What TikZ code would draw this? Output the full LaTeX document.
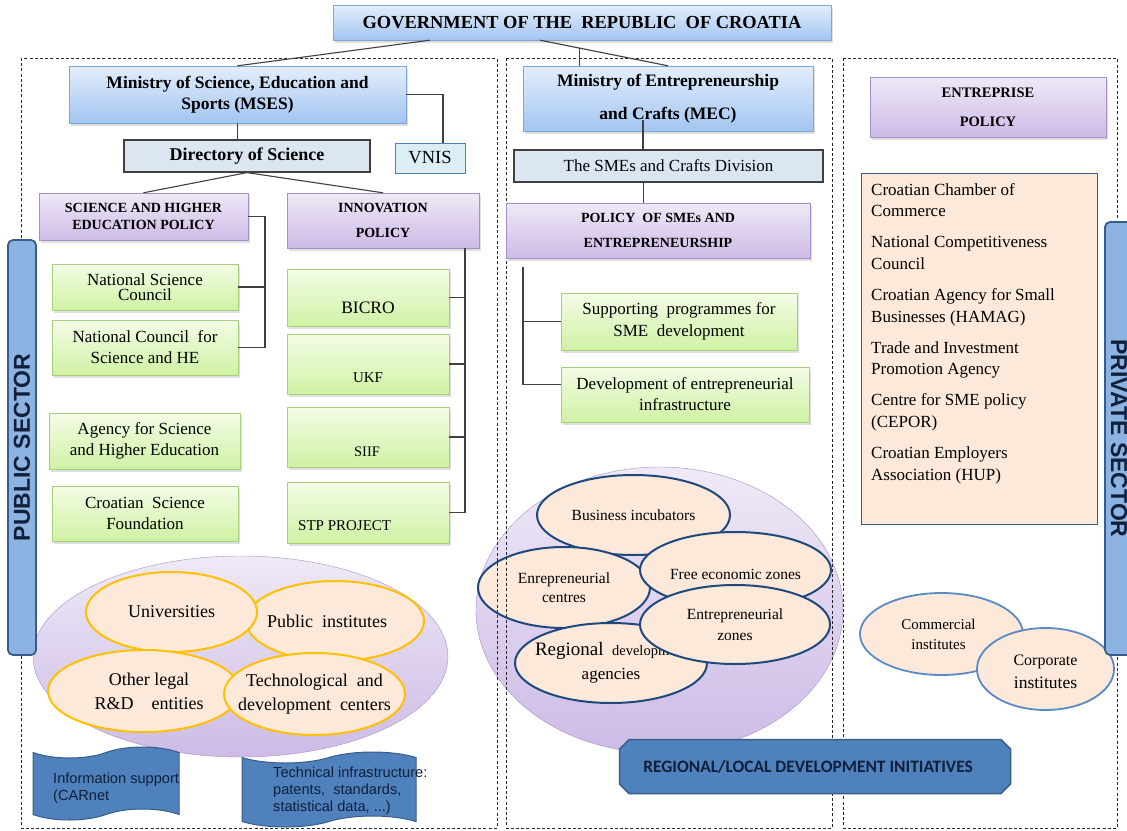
\documentclass[tikz,border=0pt]{standalone}
\usepackage{fontspec}
\setmainfont{Liberation Serif}
\setsansfont{Liberation Sans}
\newfontfamily\calibri{Carlito}
\usetikzlibrary{shapes.geometric,shapes.symbols,shapes.misc,shadows,calc}

\definecolor{blueline}{HTML}{7EA6D9}
\definecolor{bluetop}{HTML}{E3EEFC}
\definecolor{bluebot}{HTML}{A3C5F1}
\definecolor{purpline}{HTML}{A58FCB}
\definecolor{purptop}{HTML}{EFE9F7}
\definecolor{purpbot}{HTML}{CDBBE6}
\definecolor{greenline}{HTML}{A9CF7A}
\definecolor{greentop}{HTML}{F4FCE6}
\definecolor{greenbot}{HTML}{CFF2A4}
\definecolor{peach}{HTML}{FDE9D9}
\definecolor{gold}{HTML}{FFC000}
\definecolor{navy}{HTML}{1F497D}
\definecolor{lightnavy}{HTML}{5A8AC6}
\definecolor{midblue}{HTML}{4F81BD}
\definecolor{darkblue}{HTML}{385D8A}
\definecolor{skyblue}{HTML}{8DB3E2}
\definecolor{greyblue}{HTML}{DCE6F2}
\definecolor{paleaqua}{HTML}{DAEEF3}
\definecolor{wire}{HTML}{404040}
\definecolor{ink}{HTML}{10203A}

\newcommand{\fsz}[2]{\fontsize{#1}{#2}\selectfont}

\begin{document}
\begin{tikzpicture}[x=1pt, y=-1pt,
    softshadow/.style={drop shadow={opacity=.25, shadow xshift=1.5pt, shadow yshift=-2.5pt}},
    bluebox/.style={draw=blueline, top color=bluetop, bottom color=bluebot, align=center, inner sep=0pt, softshadow, font=\fsz{17.5}{21}\bfseries},
    purplebox/.style={draw=purpline, top color=purptop, bottom color=purpbot, align=center, inner sep=0pt, softshadow, font=\fsz{14}{25}\bfseries},
    greenbox/.style={draw=greenline, top color=greentop, bottom color=greenbot, align=center, inner sep=0pt, softshadow, font=\fsz{17}{21}},
    greybox/.style={draw=wire, line width=1.2pt, fill=greyblue, align=center, inner sep=0pt, font=\fsz{17}{20}},
    panel/.style={draw=black!85, line width=0.8pt, dash pattern=on 3pt off 2.2pt},
    wires/.style={draw=wire, line width=1.1pt},
    bigblob/.style={ellipse, inner sep=0pt, draw=purpline, top color=purptop, bottom color=purpbot},
    blob/.style={ellipse, inner sep=0pt, fill=peach, line width=2pt},
    tapebox/.style={tape, draw=darkblue, line width=1pt, fill=midblue, tape bend height=11pt, inner sep=0pt},
    tapetext/.style={anchor=west, align=left, inner sep=0pt, text=ink, font=\sffamily\fsz{14.6}{17}},
    sidebar/.style={draw=darkblue, line width=1.8pt, fill=skyblue, rounded corners=5pt, inner sep=0pt, text=ink, font=\sffamily\bfseries\fsz{23}{26}},
    ]
    \useasboundingbox (0,0) rectangle (1127,830);

    \node[bigblob, minimum width=415, minimum height=201] at (240.5,656.5) (pubcloud) {};
    \node[blob, draw=gold, minimum width=178, minimum height=80, label={[xshift=-8pt, font=\fsz{18}{24}]center:Public\enspace institutes}] at (335,621) (pubinst) {};
    \node[blob, draw=gold, minimum width=171, minimum height=80, label={[font=\fsz{18}{24}]center:Universities}] at (171.5,612) (univ) {};
    \node[blob, draw=gold, minimum width=192, minimum height=82, label={[xshift=5pt, align=center, font=\fsz{18}{24}]center:Other legal\\R\&D\quad entities}] at (144,691) (otherrd) {};
    \node[blob, draw=gold, minimum width=181, minimum height=82, label={[align=center, font=\fsz{18}{24}]center:Technological\enspace and\\development\enspace centers}] at (314.5,694) (techdev) {};

    \node[bigblob, minimum width=367, minimum height=286] at (659.5,610) (regcloud) {};
    \node[blob, draw=navy, minimum width=193, minimum height=80, label={[font=\fsz{15.5}{21}]center:Business incubators}] at (633.5,515) (incub) {};
    \node[blob, draw=navy, minimum width=172, minimum height=81, label={[align=center, font=\fsz{15.5}{19}]center:Enrepreneurial\\centres}] at (564,587.5) (entcentres) {};
    \node[blob, draw=navy, minimum width=191, minimum height=76, label={[yshift=-4pt, font=\fsz{15.5}{21}]center:Free economic zones}] at (735.5,570) (freezones) {};
    \node[blob, draw=navy, minimum width=192, minimum height=80, label={[align=center, font=\fsz{17}{24}]center:{\fsz{19}{24}Regional}\enspace{\fsz{14.5}{24}development}\\agencies}] at (611,663) (regdev) {};
    \node[blob, draw=navy, minimum width=190, minimum height=79, label={[align=center, font=\fsz{15.5}{21}]center:Entrepreneurial\\zones}] at (735,624.5) (entzones) {};

    \node[blob, draw=lightnavy, line width=1.8pt, minimum width=163, minimum height=82, label={[xshift=-3pt, align=center, font=\fsz{15}{20}]center:Commercial\\institutes}] at (941.5,634) (commerce) {};
    \node[blob, draw=lightnavy, line width=1.8pt, minimum width=137, minimum height=82, label={[yshift=-2.5pt, align=center, font=\fsz{16}{23}]center:Corporate\\{\fsz{17.5}{23}institutes}}] at (1045.5,669) (corporate) {};

    \draw[panel] (21,58) rectangle (497,828);
    \draw[panel] (506,58) rectangle (832,828);
    \draw[panel] (843,58) rectangle (1117,828);

    \node[bluebox, font=\fsz{18.4}{21}\bfseries, minimum width=498, minimum height=35] at (582,22.5) (gov) {GOVERNMENT OF THE\ \ REPUBLIC\ \ OF CROATIA};
    \node[bluebox, minimum width=337, minimum height=57] at (237.5,94.5) (mses) {Ministry of Science, Education and\\Sports (MSES)};
    \node[greybox, font=\fsz{18}{20}\bfseries, minimum width=246, minimum height=32] at (247,156) (dir) {Directory of Science};
    \node[draw=midblue, fill=paleaqua, font=\fsz{18.5}{20}, inner sep=0pt, minimum width=70, minimum height=30] at (430,158) (vnis) {VNIS};
    \node[purplebox, font=\fsz{14}{17}\bfseries, minimum width=209, minimum height=47] at (143.5,216.5) (she) {SCIENCE AND HIGHER\\EDUCATION POLICY};
    \node[purplebox, minimum width=192, minimum height=55] at (383,220.5) (innov) {INNOVATION\\POLICY};

    \node[greenbox, font=\fsz{17}{15.5}, minimum width=186, minimum height=46] at (145,287) (nsc) {National Science\\Council};
    \node[greenbox, minimum width=186, minimum height=55] at (145,347.5) (ncs) {National Council\ \ for\\Science and HE};
    \node[greenbox, minimum width=191, minimum height=56] at (144.5,441) (ashe) {Agency for Science\\and Higher Education};
    \node[greenbox, minimum width=186, minimum height=55] at (145,513.5) (csf) {Croatian\ \ Science\\Foundation};

    \node[greenbox, minimum width=162, minimum height=57] at (368,297.5) (bicro) {};
    \node[font=\fsz{17.5}{20}] at (368,308) (bicrotxt) {BICRO};
    \node[greenbox, minimum width=162, minimum height=60] at (368,364) (ukf) {};
    \node[font=\fsz{15}{18}] at (368,378) (ukftxt) {UKF};
    \node[greenbox, minimum width=162, minimum height=60] at (368,437) (siif) {};
    \node[font=\fsz{14.5}{18}] at (367,452) (siiftxt) {SIIF};
    \node[greenbox, minimum width=162, minimum height=61] at (368,512.5) (stp) {};
    \node[font=\fsz{15}{18}, anchor=west, inner sep=0pt] at (298,526) (stptxt) {STP PROJECT};

    \node[bluebox, font=\fsz{17.5}{33}\bfseries, minimum width=290, minimum height=65] at (668,98.5) (mec) {Ministry of Entrepreneurship\\and Crafts (MEC)};
    \node[greybox, minimum width=309, minimum height=32] at (668.5,166) (smediv) {The SMEs and Crafts Division};
    \node[purplebox, minimum width=304, minimum height=55] at (658,230.5) (smepol) {POLICY\ \ OF SMEs AND\\ENTREPRENEURSHIP};
    \node[greenbox, font=\fsz{17}{22}, minimum width=236, minimum height=57] at (679,321.5) (supp) {Supporting\ \ programmes for\\SME\ \ development};
    \node[greenbox, minimum width=248, minimum height=55] at (685,394.5) (devinf) {Development of entrepreneurial\\infrastructure};

    \node[purplebox, font=\fsz{14.5}{29}\bfseries, minimum width=236, minimum height=60] at (988,107) (entpol) {ENTREPRISE\\POLICY};
    \node[draw=darkblue, fill=peach, minimum width=236, minimum height=351] at (979,348.5) (bizlist) {};
    \node[anchor=north west, align=left, inner sep=0pt, font=\fsz{17}{21.7}] at (871,183) (bizlisttxt) {Croatian Chamber of\\Commerce\\[9.3pt]National Competitiveness\\Council\\[9.3pt]Croatian Agency for Small\\Businesses (HAMAG)\\[9.3pt]Trade and Investment\\Promotion Agency\\[9.3pt]Centre for SME policy\\(CEPOR)\\[9.3pt]Croatian Employers\\Association (HUP)};

    \draw[wires] ([xshift=-152pt]gov.south) -- (mses.north);
    \draw[wires] ([xshift=-42pt]gov.south) -- (mec.north);
    \coordinate (govfork) at ($([xshift=-42pt]gov.south)!.31!(mec.north)$);
    \draw[wires] (govfork) -- (govfork |- mec.north);
    \draw[wires] (mses.east) -| ([xshift=13pt]vnis.north);
    \draw[wires] (mses.south) -- (mses.south |- dir.north);
    \draw[wires] (dir.south) -- (she.north);
    \draw[wires] (dir.south) -- (innov.north);
    \coordinate (shebus) at (265,217);
    \draw[wires] (she.east) -- (shebus |- she.east) -- (shebus |- ncs.east) -- (ncs.east);
    \draw[wires] (nsc.east) -- (nsc.east -| shebus);
    \coordinate (innobus) at (465,248);
    \draw[wires] (innobus) -- (innobus |- stp.east);
    \foreach \n in {bicro,ukf,siif,stp}
        \draw[wires] (\n.east) -- (\n.east -| innobus);
    \draw[wires] ([xshift=-25pt,yshift=11pt]mec.south) -- ([xshift=-25pt]mec.south |- smediv.north);
    \draw[wires] ([xshift=-25pt]smediv.south) -- ([xshift=-25pt]smediv.south |- smepol.north);
    \coordinate (smebus) at (523,267);
    \draw[wires] (smebus) |- ([yshift=10pt]devinf.west);
    \draw[wires] (supp.west -| smebus) -- (supp.west);

    \node[tapebox, minimum width=146, minimum height=73] at (106,783.5) (infosup) {};
    \node[tapetext] at (53,788.5) (infosuptxt) {Information support\\(CARnet};
    \node[tapebox, minimum width=174, minimum height=75] at (329,789.5) (techinf) {};
    \node[tapetext] at (273,791) (techinftxt) {Technical infrastructure:\\patents,\ \ standards,\\statistical data, ...)};

    \node[chamfered rectangle, chamfered rectangle xsep=12pt, draw=darkblue, line width=1.5pt, fill=midblue, minimum width=391, minimum height=54, inner sep=0pt, text=ink, font=\calibri\bfseries\fsz{17.4}{18}] at (815,766.5) (regional) {REGIONAL/LOCAL DEVELOPMENT INITIATIVES\hspace*{14pt}};

    \node[sidebar, rotate=90, minimum width=415, minimum height=28] at (22,447.5) (public) {PUBLIC SECTOR};
    \node[sidebar, rotate=-90, minimum width=433, minimum height=28] at (1119,438.5) (private) {PRIVATE SECTOR};
\end{tikzpicture}
\end{document}
